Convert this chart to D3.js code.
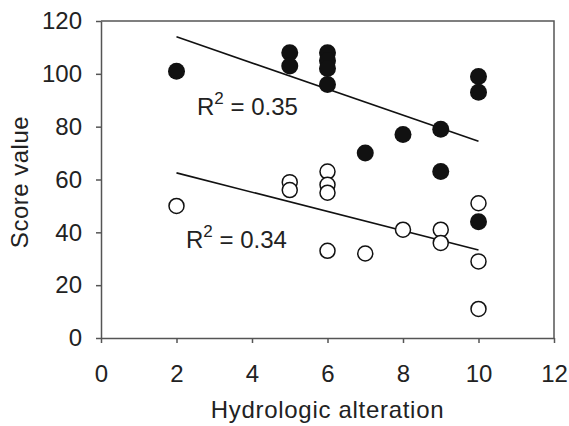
<!DOCTYPE html>
<html>
<head>
<meta charset="utf-8">
<script src="https://cdn.jsdelivr.net/npm/d3@7"></script>
<style>
body { margin: 0; background: white; }
text { font-family: "Liberation Sans", Arial, sans-serif; fill: #222; }
</style>
</head>
<body>
<svg></svg>
<script>
// filled circles (upper group)
var filledX = [2, 5, 5, 6, 6, 6, 6, 7, 8, 9, 9, 10, 10, 10]
var filledY = [101, 108, 103, 108, 105, 102, 96, 70, 77, 79, 63, 99, 93, 44]

// open circles (lower group)
var openX = [2, 5, 5, 6, 6, 6, 6, 7, 8, 9, 9, 10, 10, 10]
var openY = [50, 59, 56, 63, 58, 55, 33, 32, 41, 41, 36, 51, 29, 11]

// fitted lines, ends
var fitUpperX = [2, 10]
var fitUpperY = [114, 74.5]
var fitLowerX = [2, 10]
var fitLowerY = [62.5, 33.3]

var xTicks = [0, 2, 4, 6, 8, 10, 12]
var yTicks = [0, 20, 40, 60, 80, 100, 120]

var screen = {width: 569, height: 426}
var margin = {left: 101, right: 15, top: 21, bottom: 88}

var svg = d3.select("svg")
    .attr("width", screen.width)
    .attr("height", screen.height)

var xscale = d3.scaleLinear()
    .domain([0, 12])
    .range([margin.left, screen.width - margin.right])

var yscale = d3.scaleLinear()
    .domain([0, 120])
    .range([screen.height - margin.bottom, margin.top])

var toPoints = function(xs, ys)
{
    return xs.map(function(x, i)
    {
        return {x: x, y: ys[i]}
    })
}

// frame top and right
svg.append("path")
    .attr("d", "M" + xscale(0) + "," + yscale(120) + "H" + xscale(12) + "V" + yscale(0))
    .attr("fill", "none")
    .attr("stroke", "#555")
    .attr("stroke-width", 1.5)

var xAxis = svg.append("g")
    .attr("transform", "translate(0," + yscale(0) + ")")
    .call(d3.axisBottom(xscale).tickValues(xTicks).tickSize(5).tickPadding(22).tickSizeOuter(0))

var yAxis = svg.append("g")
    .attr("transform", "translate(" + xscale(0) + ",0)")
    .call(d3.axisLeft(yscale).tickValues(yTicks).tickSize(5).tickPadding(14).tickSizeOuter(0))

svg.selectAll(".domain, .tick line")
    .attr("stroke", "#555")
    .attr("stroke-width", 1.5)

svg.selectAll(".tick text")
    .style("font-family", "Liberation Sans, Arial, sans-serif")
    .style("font-size", "24px")
    .attr("fill", "#222")

// regression lines
var line = d3.line()
    .x(function(p) {return xscale(p.x)})
    .y(function(p) {return yscale(p.y)})

svg.append("path")
    .datum(toPoints(fitUpperX, fitUpperY))
    .attr("d", line)
    .attr("fill", "none")
    .attr("stroke", "#111")
    .attr("stroke-width", 1.6)

svg.append("path")
    .datum(toPoints(fitLowerX, fitLowerY))
    .attr("d", line)
    .attr("fill", "none")
    .attr("stroke", "#111")
    .attr("stroke-width", 1.6)

// open circles
svg.selectAll("circle.open")
    .data(toPoints(openX, openY))
    .enter()
    .append("circle")
    .attr("class", "open")
    .attr("r", 7.5)
    .attr("cx", function(p) {return xscale(p.x)})
    .attr("cy", function(p) {return yscale(p.y)})
    .attr("fill", "white")
    .attr("stroke", "#111")
    .attr("stroke-width", 1.5)

// filled circles
svg.selectAll("circle.filled")
    .data(toPoints(filledX, filledY))
    .enter()
    .append("circle")
    .attr("class", "filled")
    .attr("r", 8.5)
    .attr("cx", function(p) {return xscale(p.x)})
    .attr("cy", function(p) {return yscale(p.y)})
    .attr("fill", "#111")

// R squared labels
var addR2 = function(x, y, value)
{
    var t = svg.append("text")
        .attr("x", x)
        .attr("y", y)
        .style("font-size", "24px")
    t.append("tspan").text("R")
    t.append("tspan").attr("dy", -11).style("font-size", "17px").text("2")
    t.append("tspan").attr("dy", 11).text(" = " + value)
}
addR2(197, 115, "0.35")
addR2(186, 248, "0.34")

// axis titles
svg.append("text")
    .attr("x", (xscale(0) + xscale(12)) / 2)
    .attr("y", 418)
    .attr("text-anchor", "middle")
    .style("font-size", "24px")
    .style("letter-spacing", "0.7px")
    .text("Hydrologic alteration")

svg.append("text")
    .attr("transform", "translate(28,182) rotate(-90)")
    .attr("text-anchor", "middle")
    .style("font-size", "24px")
    .style("letter-spacing", "0.5px")
    .text("Score value")
</script>
</body>
</html>
